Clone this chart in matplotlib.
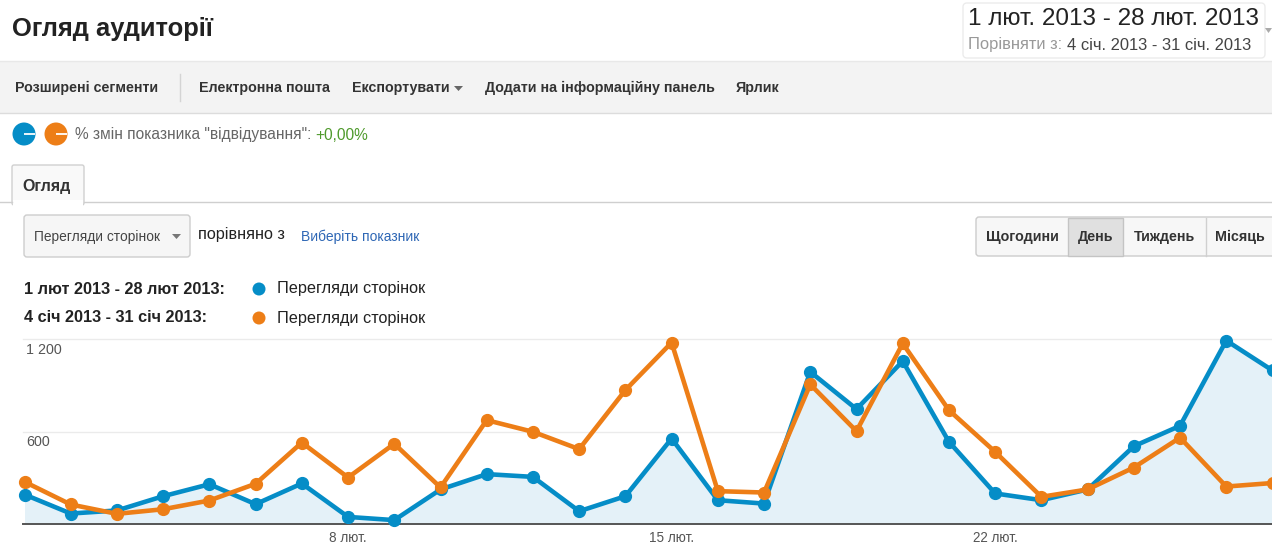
import numpy as np
import matplotlib
matplotlib.use("Agg")
from matplotlib import pyplot as plt
from matplotlib.patches import Rectangle, FancyBboxPatch, Circle, Polygon

plt.rcParams['font.family'] = ['Liberation Sans', 'DejaVu Sans']

# page views per day, Feb 2013 vs the compared period (Jan 4 - Jan 31)
days = np.arange(1, 29)
feb_views = [189, 65, 85, 178, 256, 126, 261, 43, 22, 222, 322, 304, 80, 178,
             554, 152, 130, 989, 746, 1059, 533, 196, 152, 222, 504, 637, 1193, 998]
jan_views = [272, 124, 63, 93, 150, 259, 528, 300, 520, 235, 674, 598, 485, 870,
             1180, 211, 202, 907, 602, 1174, 739, 467, 174, 222, 365, 560, 241, 264]
x_tick_days = [8, 15, 22]
x_tick_labels = ['8 лют.', '15 лют.', '22 лют.']
y_ticks = [600, 1200]
y_tick_labels = ['600', '1 200']

BLUE = '#058dc7'
ORANGE = '#ed7e17'
W, H = 1272, 546

fig = plt.figure(figsize=(W / 100, H / 100), dpi=100)

# page chrome drawn in pixel coordinates
ui = fig.add_axes([0, 0, 1, 1])
ui.set_xlim(0, W)
ui.set_ylim(H, 0)
ui.axis('off')

def px(size):
    return size * 72 / 100

ui.text(12, 29, 'Огляд аудиторії', fontsize=px(25.5), fontweight='bold', color='#222', va='center')

# date range box
ui.add_patch(FancyBboxPatch((963, 3), 302, 55, boxstyle='round,pad=0,rounding_size=4',
                            fc='white', ec='#ececec', lw=1))
ui.text(968, 19, '1 лют. 2013 - 28 лют. 2013', fontsize=px(24.2), color='#222', va='center')
t = ui.text(968, 45, 'Порівняти з: ', fontsize=px(16.5), color='#999', va='center')
ui.annotate('4 січ. 2013 - 31 січ. 2013', xycoords=t, xy=(1, 0.5), va='center',
            fontsize=px(16.5), color='#444')
ui.add_patch(Polygon([[1265, 28], [1272, 28], [1268.5, 33]], fc='#aaa', ec='none'))

# toolbar
ui.add_patch(Rectangle((0, 61), W, 52, fc='#f3f3f3', ec='none'))
ui.plot([0, W], [61, 61], color='#e8e8e8', lw=1)
ui.plot([0, W], [113, 113], color='#dcdcdc', lw=1)
ui.plot([180, 180], [74, 101], color='#d4d4d4', lw=1)
for xx, label in [(15, 'Розширені сегменти'), (199, 'Електронна пошта'),
                  (352, 'Експортувати'), (485, 'Додати на інформаційну панель'), (736, 'Ярлик')]:
    ui.text(xx, 88, label, fontsize=px(14.2), fontweight='bold', color='#333', va='center')
ui.add_patch(Polygon([[454, 86], [463, 86], [458.5, 91]], fc='#666', ec='none'))

# comparison row
for cx, col in [(24, BLUE), (56, ORANGE)]:
    ui.add_patch(Circle((cx, 134), 11.5, fc=col, ec='none'))
    ui.plot([cx, cx + 11], [134, 134], color='white', lw=1.3, solid_capstyle='butt')
t = ui.text(75, 135, '% змін показника "відвідування": ', fontsize=px(15.5), color='#666', va='center')
ui.annotate('+0,00%', xycoords=t, xy=(1, 0.5), va='center', fontsize=px(15.5), color='#4f9a2c')

# tab
ui.plot([0, 12], [202, 202], color='#cfcfcf', lw=1)
ui.plot([84, W], [202, 202], color='#cfcfcf', lw=1)
ui.add_patch(FancyBboxPatch((12, 165), 72, 40, boxstyle='round,pad=0,rounding_size=2',
                            fc='#f9f9f9', ec='#d0d0d0', lw=1))
ui.add_patch(Rectangle((12.6, 200), 70.8, 6, fc='white', ec='none'))
ui.text(22, 186, 'Огляд', fontsize=px(16), fontweight='bold', color='#333', va='center')

# metric dropdown
ui.add_patch(FancyBboxPatch((24, 215), 166, 42, boxstyle='round,pad=0,rounding_size=3',
                            fc='#f6f6f6', ec='#cdcdcd', lw=1))
ui.text(34, 237, 'Перегляди сторінок', fontsize=px(13.8), color='#444', va='center')
ui.add_patch(Polygon([[172, 234], [181, 234], [176.5, 239]], fc='#777', ec='none'))
ui.text(198, 235, 'порівняно з', fontsize=px(16.3), color='#222', va='center')
ui.text(301, 237, 'Виберіть показник', fontsize=px(13.9), color='#2e67b5', va='center')

# granularity buttons
ui.add_patch(FancyBboxPatch((976, 217), 300, 39, boxstyle='round,pad=0,rounding_size=3',
                            fc='#f7f7f7', ec='#cccccc', lw=1))
ui.add_patch(Rectangle((1068, 217.5), 55, 38, fc='#e0e0e0', ec='#c4c4c4', lw=1))
for sx in [1206]:
    ui.plot([sx, sx], [217.5, 255.5], color='#d0d0d0', lw=1)
for cx, label in [(1022, 'Щогодини'), (1095.5, 'День'), (1164.5, 'Тиждень'), (1240, 'Місяць')]:
    ui.text(cx, 237, label, fontsize=px(14.3), fontweight='bold', color='#333',
            va='center', ha='center')

# legend
for yy, period, col in [(289, '1 лют 2013 - 28 лют 2013:', BLUE),
                        (318, '4 січ 2013 - 31 січ 2013:', ORANGE)]:
    ui.text(24, yy, period, fontsize=px(16.3), fontweight='bold', color='#222', va='center')
    ui.add_patch(Circle((259, yy), 6.5, fc=col, ec='none'))
    ui.text(277, yy, 'Перегляди сторінок', fontsize=px(16.3), color='#222', va='center')

# chart
left, right, base, top = 24.5, 1272.5, 523.5, 339.5
ax = fig.add_axes([left / W, (H - base) / H, (right - left) / W, (base - top) / H])
ax.set_xlim(days[0], days[-1])
ax.set_ylim(0, 1200)
ax.axis('off')
for yv in y_ticks:
    ax.plot([days[0] - 0.04, days[-1]], [yv, yv], color='#ebebeb', lw=1, zorder=1, clip_on=False)
ax.fill_between(days, feb_views, 0, color='#e4f1f8', lw=0, zorder=2)
ax.plot([days[0] - 0.04, days[-1]], [0, 0], color='#555', lw=1.4, zorder=3, clip_on=False)
ax.plot(days, feb_views, color=BLUE, lw=3.3, marker='o', ms=8.5, zorder=4, clip_on=False)
ax.plot(days, jan_views, color=ORANGE, lw=3.3, marker='o', ms=8.5, zorder=5, clip_on=False)
for yv, lab in zip(y_ticks, y_tick_labels):
    ax.annotate(lab, xy=(days[0], yv), xytext=(2, -11), textcoords='offset pixels',
                fontsize=px(14.2), color='#555', va='center', ha='left')
for d, lab in zip(x_tick_days, x_tick_labels):
    ax.annotate(lab, xy=(d, 0), xytext=(0, -15), textcoords='offset pixels',
                fontsize=px(13.5), color='#555', va='center', ha='center')

fig.savefig('out.png', dpi=100)
